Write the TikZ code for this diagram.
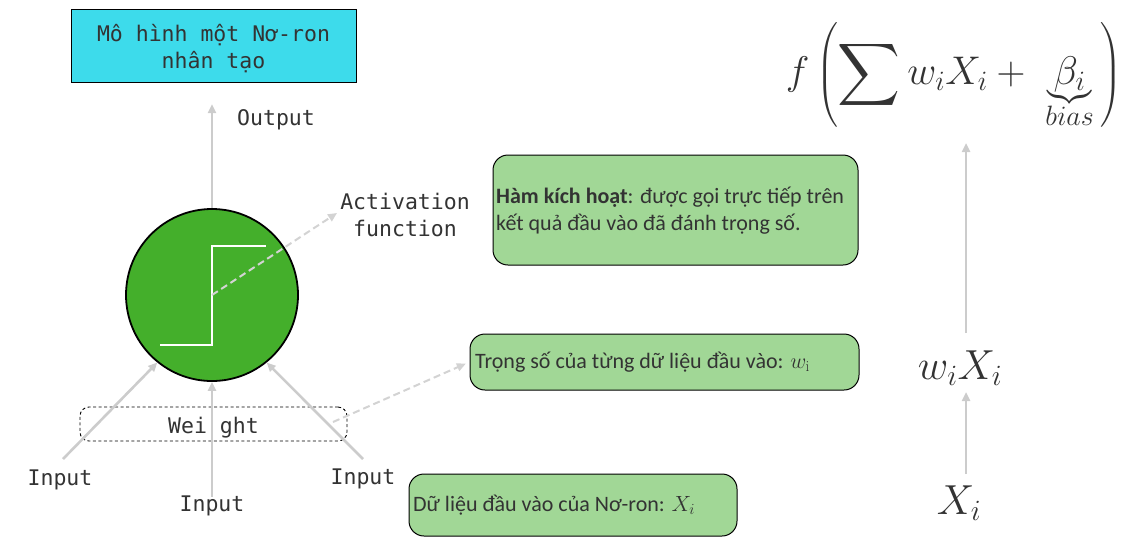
\RequirePackage{fix-cm}
\documentclass[tikz,border=0pt]{standalone}
\usepackage{fontspec}
\usepackage{amsmath}
\usepackage{exscale}
\usepackage{graphicx}
\usetikzlibrary{arrows.meta}
\newfontfamily\monof{DejaVu Sans Mono}
\newfontfamily\boxf{Carlito}
\definecolor{txt}{HTML}{333333}
\definecolor{arrowgray}{HTML}{CCCCCC}
\definecolor{dashgray}{HTML}{D3D3D3}
\definecolor{titlecyan}{HTML}{3DDBEB}
\definecolor{neurongreen}{HTML}{44AF2B}
\definecolor{boxgreen}{HTML}{A1D796}
\newcommand{\bigsumsym}{\mathop{\vcenter{\hbox{\scalebox{1.75}{$\displaystyle\sum$}}}}}
\begin{document}
\begin{tikzpicture}[x=1pt,y=-1pt,
  grayarrow/.style={draw=arrowgray, line width=2.6pt, -{Triangle[length=9pt,width=8pt]}},
  dasharrow/.style={draw=dashgray, line width=2pt, dash pattern=on 7pt off 4pt, -{Triangle[length=9pt,width=8pt]}},
  monolabel/.style={font=\monof\fontsize{21.5}{27}\selectfont, text=txt, align=center, inner sep=0pt},
  greenbox/.style={draw=black, line width=1pt, fill=boxgreen, rounded corners=15pt, inner sep=0pt},
  boxtext/.style={font=\boxf\fontsize{22}{27}\selectfont, text=txt, align=left, inner sep=0pt, anchor=west},
  mathlabel/.style={text=txt, inner sep=0pt, font=\fontsize{42}{48}\selectfont}
]
\useasboundingbox (0,0) rectangle (1137,542);

% title
\node[draw=black, line width=1pt, fill=titlecyan, minimum width=285pt, minimum height=73pt] (title) at (213.5,45.5) {};
\node[monolabel] (titletext) at (213.5,48.5) {Mô hình một Nơ-ron\\nhân tạo};

% neuron
\node[circle, draw=black, line width=1.8pt, fill=neurongreen, minimum size=172pt, inner sep=0pt] (neuron) at (212,295) {};
\draw[white, line width=2.8pt] (160,345) -- (212,345) -- (212,246) -- (266,246);

% output
\coordinate (outtip) at (212,104);
\draw[grayarrow] (neuron.north) -- (outtip);
\node[monolabel, anchor=west] (output) at (237,120) {Output};

% activation
\node[monolabel] (act) at (405,215) {Activation\\function};
\coordinate (acttip) at (337,213);
\draw[dasharrow] (neuron.center) -- (acttip);

% weight
\node[draw=black, line width=0.9pt, dash pattern=on 3pt off 2.5pt, rounded corners=9pt,
      minimum width=267pt, minimum height=34pt] (weight) at (213.5,424) {};
\node[monolabel] (weighttext) at (213.5,428) {Wei ght};

% inputs
\node[monolabel] (in1) at (60,480) {Input};
\node[monolabel] (in2) at (212,506) {Input};
\node[monolabel] (in3) at (363,479) {Input};
\coordinate (s1) at (63,459);
\coordinate (s3) at (363,459);
\draw[grayarrow] (s1) -- (neuron.231);
\draw[grayarrow] ([yshift=-1pt]in2.north) -- (neuron.south);
\draw[grayarrow] (s3) -- (neuron.309);

% green boxes
\node[greenbox, minimum width=365pt, minimum height=110pt] (box1) at (675.5,210) {};
\node[boxtext] (t1) at (496,210.5) {\textbf{Hàm kích hoạt}: được gọi trực tiếp trên\\kết quả đầu vào đã đánh trọng số.};
\node[greenbox, minimum width=389pt, minimum height=56pt] (box2) at (664.5,362) {};
\node[boxtext] (t2) at (475,362) {Trọng số của từng dữ liệu đầu vào: $w_{\mathrm{i}}$};
\node[greenbox, minimum width=328pt, minimum height=62pt] (box3) at (573,505) {};
\node[boxtext] (t3) at (413,505) {Dữ liệu đầu vào của Nơ-ron: $X_i$};

\coordinate (ws) at (333,422);
\draw[dasharrow, shorten >=4pt] (ws) -- (box2.west);

% formula side
\node[text=txt, inner sep=0pt, font=\fontsize{40}{48}\selectfont] (formula) at (954,75)
  {$\displaystyle f\left(\bigsumsym w_iX_i + \;\underbrace{\beta_i}_{bias}\,\right)$};
\node[mathlabel] (wx) at (960,368) {$w_iX_i$};
\node[mathlabel] (xi) at (959,503) {$X_i$};
\coordinate (ftip) at (966,143);
\coordinate (wxtip) at (966,392);
\coordinate (wxs) at (966,333);
\coordinate (xis) at (966,474);
\draw[grayarrow] (wxs) -- (ftip);
\draw[grayarrow] (xis) -- (wxtip);
\end{tikzpicture}
\end{document}
